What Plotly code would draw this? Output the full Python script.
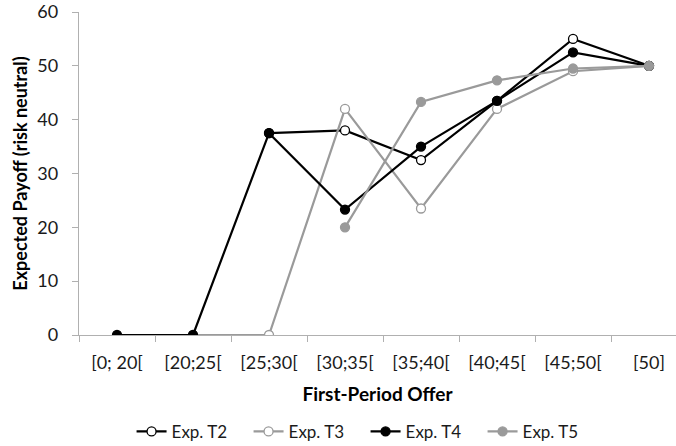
import plotly.graph_objects as go

categories = ["[0; 20[", "[20;25[", "[25;30[", "[30;35[", "[35;40[", "[40;45[", "[45;50[", "[50]"]
exp_t2 = [None, None, 37.5, 38.0, 32.5, 43.5, 55.0, 50.0]
exp_t3 = [None, 0.0, 0.0, 42.0, 23.5, 42.0, 49.0, 50.0]
exp_t4 = [0.0, 0.0, 37.5, 23.3, 35.0, 43.5, 52.5, 50.0]
exp_t5 = [None, None, None, 20.0, 43.3, 47.3, 49.5, 50.0]

FONT = "Lato"
GRAY_LINE = "#9a9a9a"
AXIS = "#b0b0b0"

fig = go.Figure()
series = [
    ("Exp. T2", exp_t2, "#000000", "white", "#000000"),
    ("Exp. T3", exp_t3, GRAY_LINE, "white", GRAY_LINE),
    ("Exp. T4", exp_t4, "#000000", "#000000", "#000000"),
    ("Exp. T5", exp_t5, GRAY_LINE, GRAY_LINE, GRAY_LINE),
]
for name, vals, lc, mfill, mline in series:
    fig.add_trace(go.Scatter(
        x=categories, y=vals, name=name, mode="lines+markers",
        line=dict(color=lc, width=2.2),
        marker=dict(size=9, color=mfill, line=dict(color=mline, width=1.3)),
        connectgaps=False,
    ))

fig.update_layout(
    width=676, height=446,
    margin=dict(l=79, r=0, t=12, b=111, autoexpand=False),
    paper_bgcolor="white", plot_bgcolor="white",
    font=dict(family=FONT, color="#1a1a1a"),
    showlegend=True,
    legend=dict(
        orientation="h", x=0.48, xanchor="center", y=-0.30, yanchor="middle",
        font=dict(size=17, family=FONT, color="#1a1a1a"),
        entrywidth=72, entrywidthmode="pixels",
        bgcolor="rgba(0,0,0,0)",
    ),
    xaxis=dict(
        type="category", categoryorder="array", categoryarray=categories,
        range=[-0.5, 7.355], automargin=False,
        showline=True, linecolor=AXIS, linewidth=1.3,
        ticks="outside", tickson="boundaries", ticklen=6, tickcolor=AXIS,
        showgrid=False, zeroline=False,
        tickfont=dict(size=18, family=FONT, color="#1a1a1a"),
        ticklabelstandoff=11, ticklabeloverflow="allow",
        title=dict(text="<b>First-Period Offer</b>", font=dict(size=19, family=FONT, color="#000"), standoff=15),
    ),
    yaxis=dict(
        range=[0, 60], tickvals=[0, 10, 20, 30, 40, 50, 60], automargin=False,
        showline=True, linecolor=AXIS, linewidth=1.3,
        ticks="outside", ticklen=6, tickcolor=AXIS,
        showgrid=False, zeroline=False,
        tickfont=dict(size=18, family=FONT, color="#1a1a1a"),
        ticklabelstandoff=10, ticklabeloverflow="allow",
        title=dict(text="<b>Expected Payoff (risk neutral)</b>", font=dict(size=18, family=FONT, color="#000"), standoff=5),
    ),
)

# remove the browser's default 8px body margin so the figure fills the window
fig.write_html("out.html", config={"displayModeBar": False},
               post_script="document.body.style.margin='0';")
